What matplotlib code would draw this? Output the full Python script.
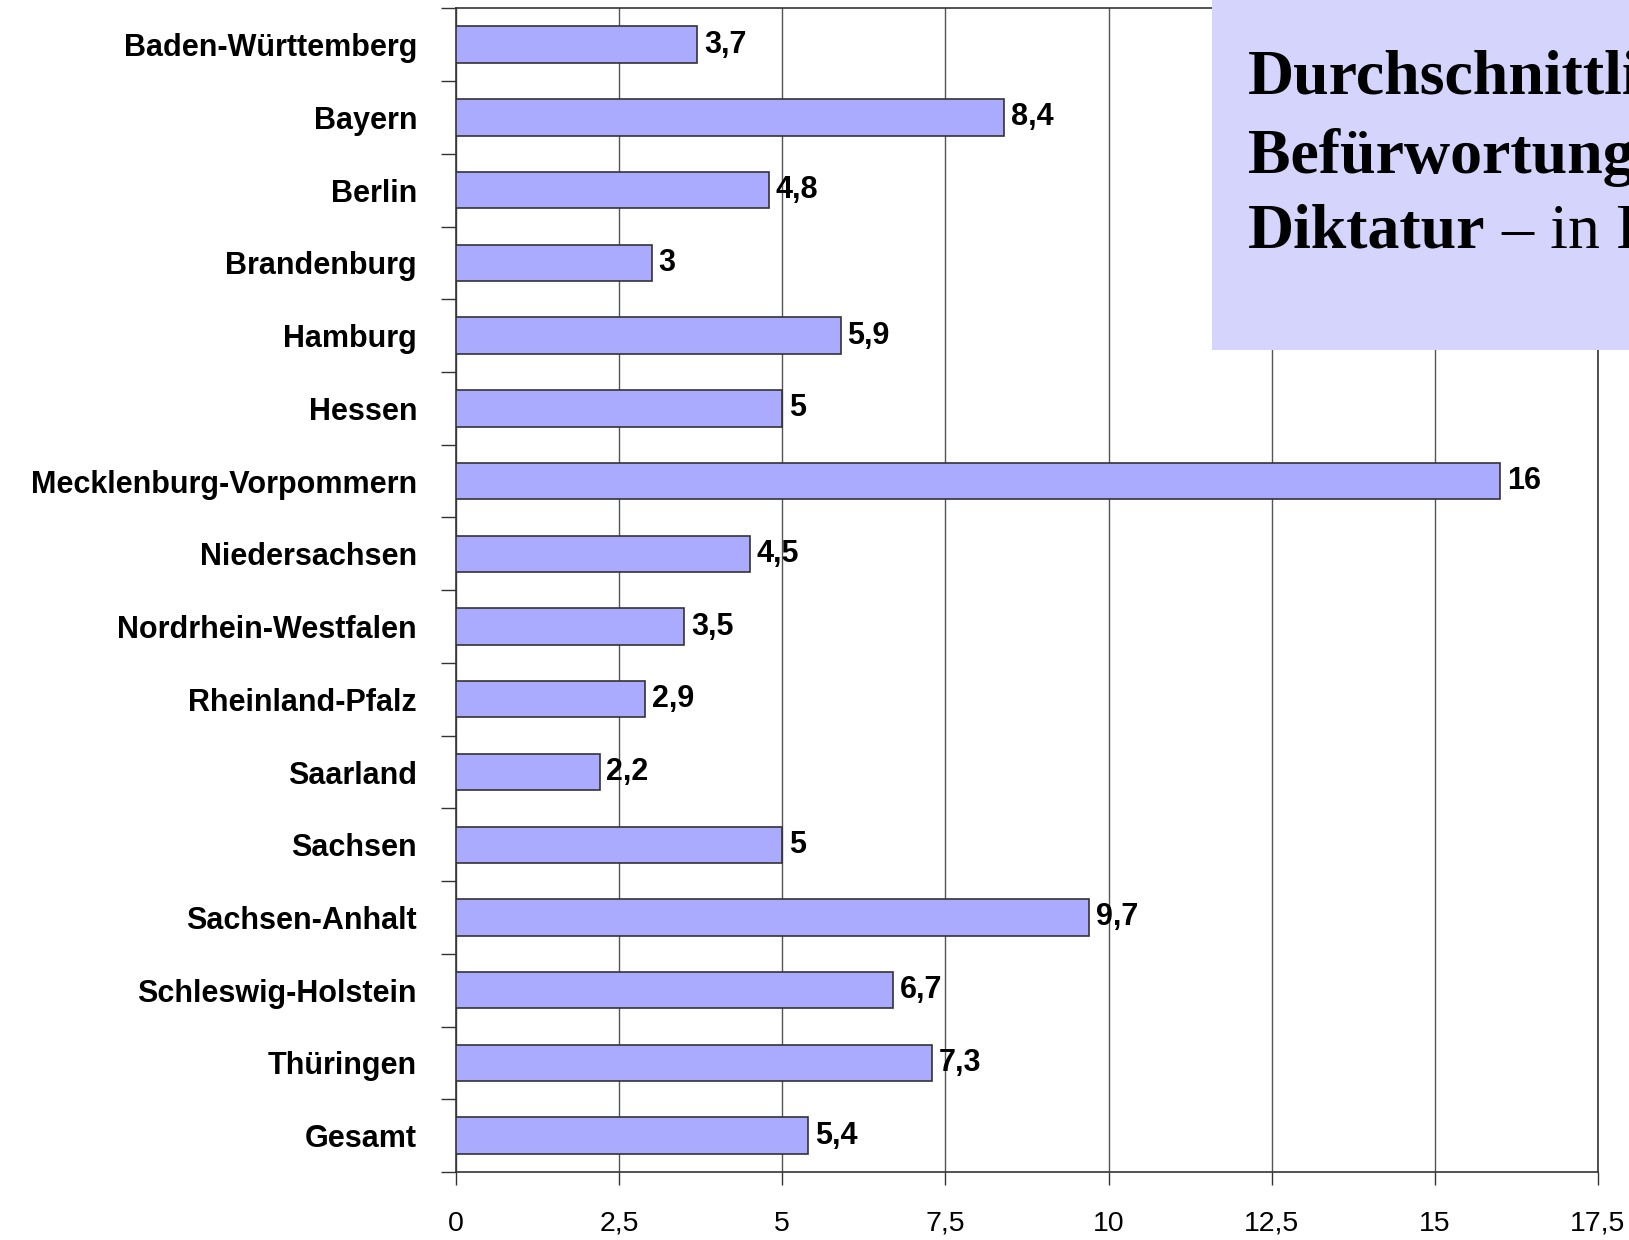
"""Befürwortung Diktatur nach Bundesland — horizontales Balkendiagramm"""
import matplotlib
matplotlib.use("Agg")
import matplotlib.pyplot as plt
from matplotlib.patches import Rectangle
from matplotlib.text import Annotation

# ===== Daten =====
LAENDER = [
    "Baden-Württemberg", "Bayern", "Berlin", "Brandenburg", "Hamburg", "Hessen",
    "Mecklenburg-Vorpommern", "Niedersachsen", "Nordrhein-Westfalen",
    "Rheinland-Pfalz", "Saarland", "Sachsen", "Sachsen-Anhalt",
    "Schleswig-Holstein", "Thüringen", "Gesamt",
]
WERTE = [3.7, 8.4, 4.8, 3, 5.9, 5, 16, 4.5, 3.5, 2.9, 2.2, 5, 9.7, 6.7, 7.3, 5.4]
X_TICKS = [0, 2.5, 5, 7.5, 10, 12.5, 15, 17.5]
TITEL = ["Durchschnittliche", "Befürwortung einer", "Diktatur"]
TITEL_REST = " – in Prozent"

# ===== Stil =====
BAR_COLOR = "#AAAAFF"
BOX_COLOR = "#D4D4FC"
GRID_COLOR = "#555555"
SANS = ["Liberation Sans", "DejaVu Sans"]
SERIF = ["Liberation Serif", "DejaVu Serif"]


def de_num(v):
    """Zahl mit deutschem Dezimalkomma"""
    if float(v).is_integer():
        return str(int(v))
    return f"{v:g}".replace(".", ",")


fig = plt.figure(figsize=(16.29, 12.40), dpi=100)
ax = fig.add_axes([0.2799, 0.0548, 0.981 - 0.2799, 0.9933 - 0.0548])

n = len(LAENDER)
pos = list(range(n))
ax.barh(pos, WERTE, height=0.5, color=BAR_COLOR, edgecolor="#333333",
        linewidth=1.2, zorder=3)
ax.set_ylim(n - 0.5, -0.5)
ax.set_xlim(0, 17.5)

# Werte an den Balken
for y, v in zip(pos, WERTE):
    ax.text(v + 0.1, y, de_num(v), va="center", ha="left", fontsize=22,
            fontweight="bold", family=SANS, zorder=4)

# x-Achse
ax.set_xticks(X_TICKS)
ax.set_xticklabels([de_num(t) for t in X_TICKS], fontsize=20.5, family=SANS)
ax.tick_params(axis="x", direction="out", length=9, width=1, pad=19,
               color="#333333")
ax.grid(True, axis="x", color=GRID_COLOR, linewidth=1, zorder=0)

# y-Achse: Striche zwischen den Kategorien, Beschriftung in der Mitte
ax.set_yticks([p - 0.5 for p in pos] + [n - 0.5])
ax.set_yticklabels([])
ax.set_yticks(pos, minor=True)
ax.set_yticklabels(LAENDER, minor=True, fontsize=22, fontweight="bold",
                   family=SANS)
ax.tick_params(axis="y", which="major", direction="out", length=11, width=1,
               color="#333333")
ax.tick_params(axis="y", which="minor", length=0, pad=28)

for s in ax.spines.values():
    s.set_color("#333333")
    s.set_linewidth(1.2)
ax.set_axisbelow(True)

# Titelkasten oben rechts (wird vom Bildrand abgeschnitten wie im Original)
box = Rectangle((1212 / 1629, 1 - 350 / 1240), 1.0, 1.0,
                transform=fig.transFigure, facecolor=BOX_COLOR,
                edgecolor="none", zorder=5)
fig.add_artist(box)

tx = 1248 / 1629
baselines = [1 - 94 / 1240, 1 - 173 / 1240, 1 - 248 / 1240]
last = None
for line, yb in zip(TITEL, baselines):
    last = fig.text(tx, yb, line, fontsize=46, fontweight="bold",
                    family=SERIF, va="baseline", ha="left", zorder=6)
rest = Annotation(TITEL_REST, xy=(1, 0), xycoords=last, va="bottom",
                  ha="left", fontsize=46, family=SERIF,
                  annotation_clip=False, zorder=6)
fig.add_artist(rest)

fig.savefig("out.png", dpi=100)
